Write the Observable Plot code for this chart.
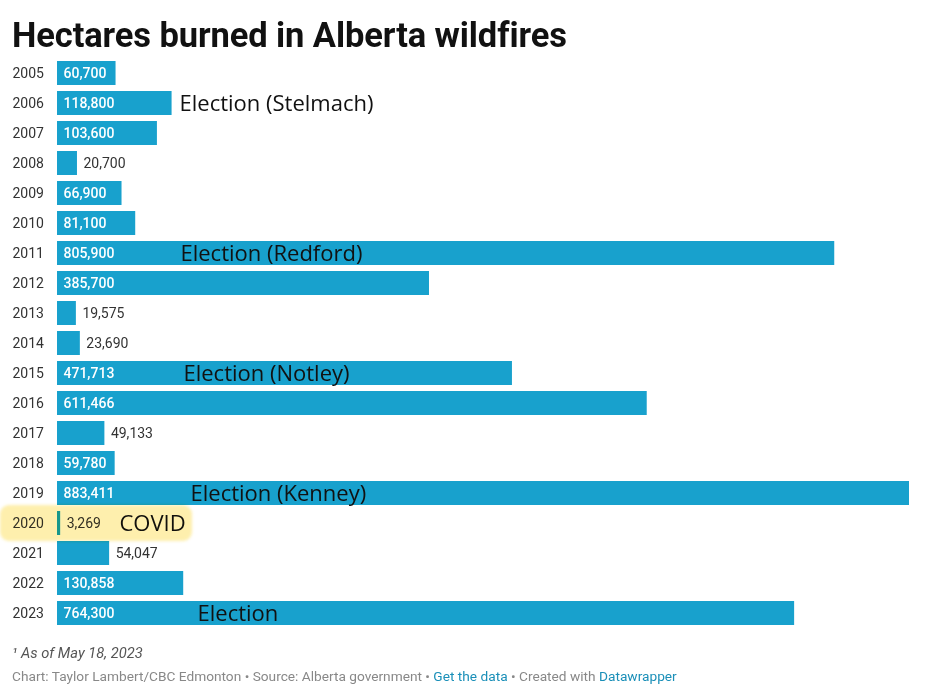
<!DOCTYPE html>
<html>
<head>
<meta charset="utf-8">
<script src="https://cdn.jsdelivr.net/npm/d3@7"></script>
<script src="https://cdn.jsdelivr.net/npm/@observablehq/plot@0.6"></script>
<style>
  html, body { margin: 0; padding: 0; background: #fff; }
  body { width: 926px; font-family: Roboto, "Noto Sans", sans-serif; }
  #title { margin: 0; padding: 16px 0 0 12px; height: 42px; font-size: 34.5px; font-weight: 700; color: #111; line-height: 38px; letter-spacing: -0.1px; }
  #chart svg { display: block; }
  #note { padding: 16px 0 0 12px; font-size: 14.7px; font-style: italic; color: #555; line-height: 18px; }
  #credit { padding: 5px 0 0 12px; font-size: 13.7px; color: #888; line-height: 18px; }
  #credit a { color: #1a8fb8; text-decoration: none; }
</style>
</head>
<body>
<div id="title">Hectares burned in Alberta wildfires</div>
<div id="chart"></div>
<div id="note">¹ As of May 18, 2023</div>
<div id="credit">Chart: Taylor Lambert/CBC Edmonton • Source: Alberta government • <a>Get the data</a> • Created with <a>Datawrapper</a></div>
<script>
const years = ["2005","2006","2007","2008","2009","2010","2011","2012","2013","2014","2015","2016","2017","2018","2019","2020","2021","2022","2023"];
const hectares = [60700,118800,103600,20700,66900,81100,805900,385700,19575,23690,471713,611466,49133,59780,883411,3269,54047,130858,764300];

const noteYears = ["2006","2011","2015","2019","2020","2023"];
const noteLabels = ["Election (Stelmach)","Election (Redford)","Election (Notley)","Election (Kenney)","COVID","Election"];
const noteAt = [126500,127500,130600,137900,64300,145200];

const highlightYear = "2020";

const data = years.map((y, i) => ({year: y, value: hectares[i]}));
const notes = noteYears.map((y, i) => ({year: y, label: noteLabels[i], at: noteAt[i]}));
const fmt = d3.format(",");
const fitsInside = d => d.value >= 55000;

const chart = Plot.plot({
  width: 926,
  height: 570,
  marginLeft: 57,
  marginRight: 17,
  marginTop: 0,
  marginBottom: 0,
  x: {domain: [0, d3.max(hectares)], axis: null},
  y: {domain: years, axis: null, paddingInner: 0.2, paddingOuter: 0.1},
  style: {fontFamily: "Roboto, sans-serif", fontSize: "14px", background: "transparent"},
  marks: [
    Plot.barX(data, {x: "value", y: "year", fill: "#18a1cd"}),
    Plot.text(data, {y: "year", text: "year", frameAnchor: "left", textAnchor: "start", dx: -45, fill: "#333", fontSize: 14}),
    Plot.text(data.filter(fitsInside), {x: 0, y: "year", text: d => fmt(d.value), textAnchor: "start", dx: 6, fill: "#fff", fontSize: 14, fontWeight: 500}),
    Plot.text(data.filter(d => !fitsInside(d)), {x: "value", y: "year", text: d => fmt(d.value), textAnchor: "start", dx: 6, fill: "#333", fontSize: 14}),
    Plot.text(notes, {x: "at", y: "year", text: "label", textAnchor: "start", fill: "#111", fontSize: 22, fontFamily: "'Open Sans', 'Noto Sans', sans-serif"}),
    Plot.rect([highlightYear], {y: d => d, x1: 0, x2: 140000, insetLeft: -57, insetTop: -6, insetBottom: -6, rx: 9, fill: "#fde88a", fillOpacity: 0.7, mixBlendMode: "multiply", className: "hl"})
  ]
});
d3.select(chart).selectAll("[aria-label='rect'] rect").style("filter", "blur(1.5px)");
document.getElementById("chart").append(chart);
</script>
</body>
</html>
